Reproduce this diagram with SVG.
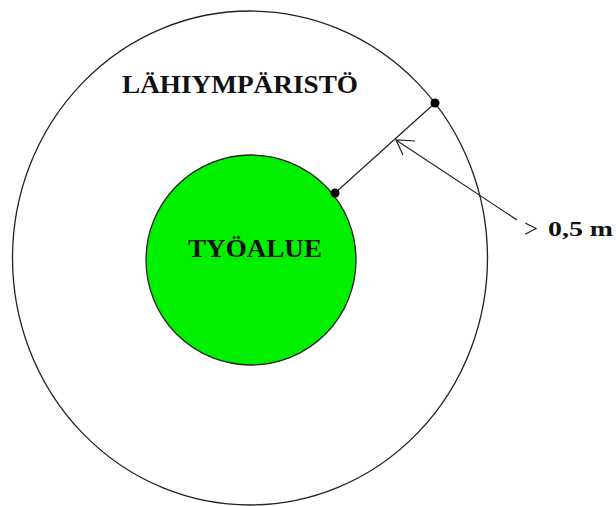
<svg xmlns="http://www.w3.org/2000/svg" width="616" height="506" viewBox="0 0 616 506">
<style>
.lbl{font-family:"Liberation Serif","Times New Roman",serif;font-weight:bold;fill:#111}
.ln{stroke:#222;stroke-width:1.2;fill:none}
</style>
<rect width="616" height="506" fill="#fff"/>
<g id="lahiymparisto">
<ellipse cx="250" cy="258" rx="237.5" ry="247" fill="#fff" stroke="#222" stroke-width="1.3"/>
<text class="lbl" x="122" y="93" font-size="25" textLength="236" lengthAdjust="spacingAndGlyphs">LÄHIYMPÄRISTÖ</text>
</g>
<g id="tyoalue">
<circle cx="251" cy="260" r="105" fill="#00f000" stroke="#222" stroke-width="1.3"/>
<text class="lbl" x="188" y="257" font-size="25" textLength="134" lengthAdjust="spacingAndGlyphs">TYÖALUE</text>
</g>
<g id="connectors">
<line class="ln" x1="335" y1="193" x2="435" y2="103"/>
<circle cx="335" cy="193" r="4.5" fill="#000"/>
<circle cx="435" cy="103" r="4.5" fill="#000"/>
<line class="ln" x1="517" y1="220" x2="396" y2="140"/>
<polyline class="ln" points="415,141 396,140 403,155"/>
</g>
<g id="dimension">
<text x="524" y="237" font-family="Liberation Serif, serif" font-size="26" fill="#111" textLength="14" lengthAdjust="spacingAndGlyphs">&gt;</text>
<text class="lbl" x="548" y="236" font-size="22" textLength="65" lengthAdjust="spacingAndGlyphs">0,5 m</text>
</g>
</svg>
